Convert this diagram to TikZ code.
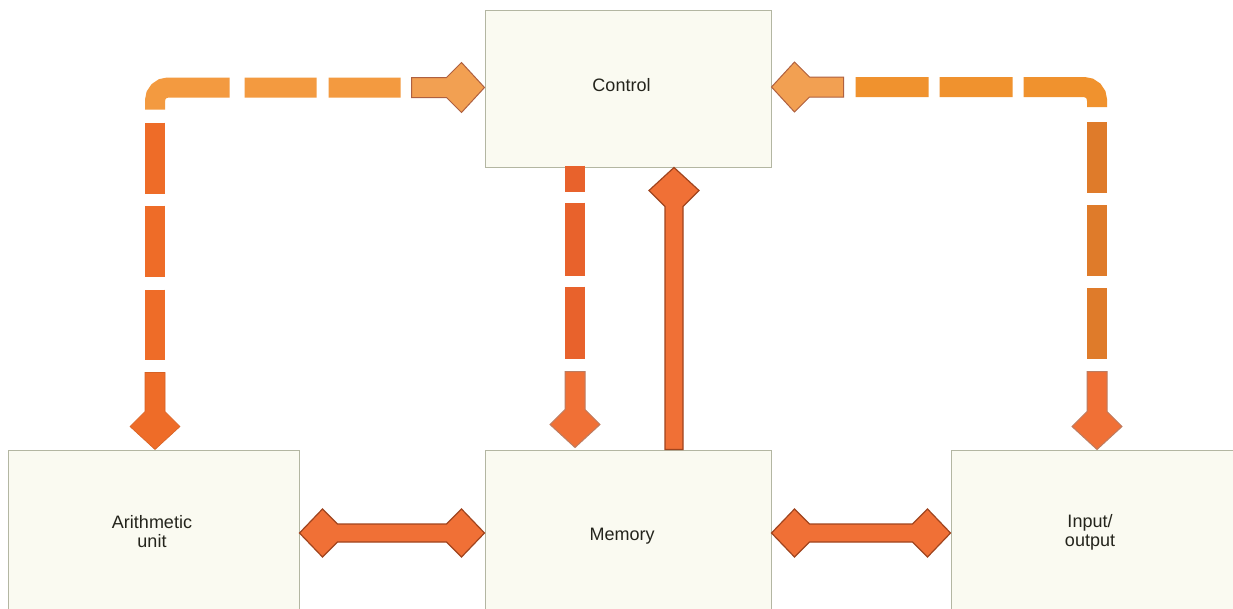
\documentclass[tikz,border=0pt]{standalone}
\usepackage{fontspec}
\setmainfont{Liberation Sans}
\usetikzlibrary{calc}
\definecolor{boxfill}{HTML}{FAFAF1}
\definecolor{boxline}{HTML}{B3B6A2}
\definecolor{txt}{HTML}{24241C}
\definecolor{dashH}{HTML}{F39A40}
\definecolor{dashL}{HTML}{EE6C28}
\definecolor{dashM}{HTML}{E8622C}
\definecolor{dashR}{HTML}{DF7B2A}
\definecolor{dashRH}{HTML}{F0922E}
\definecolor{solid}{HTML}{F07036}
\definecolor{rim}{HTML}{A0441E}
\definecolor{headH}{HTML}{F2A052}
% single-headed fat arrow: #1 style, #2 tail, #3 tip, #4 shaft half width, #5 head half width, #6 head depth
\newcommand\fatarrow[6]{%
  \pgfmathsetmacro\fsh{#6+#5-#4}%
  \draw[#1] ($(#2)!#4pt!90:(#3)$) -- ($(#3)!\fsh pt!(#2)!#4pt!-90:(#2)$) -- ($(#3)!#6pt!(#2)!#5pt!-90:(#2)$) -- (#3) -- ($(#3)!#6pt!(#2)!#5pt!90:(#2)$) -- ($(#3)!\fsh pt!(#2)!#4pt!90:(#2)$) -- ($(#2)!#4pt!-90:(#3)$) -- cycle;}
% double-headed fat arrow between #2 and #3
\newcommand\fatdarrow[6]{%
  \pgfmathsetmacro\fsh{#6+#5-#4}%
  \draw[#1] ($(#2)!\fsh pt!(#3)!#4pt!90:(#3)$) -- ($(#3)!\fsh pt!(#2)!#4pt!-90:(#2)$) -- ($(#3)!#6pt!(#2)!#5pt!-90:(#2)$) -- (#3) -- ($(#3)!#6pt!(#2)!#5pt!90:(#2)$) -- ($(#3)!\fsh pt!(#2)!#4pt!90:(#2)$) -- ($(#2)!\fsh pt!(#3)!#4pt!-90:(#3)$) -- ($(#2)!#6pt!(#3)!#5pt!-90:(#3)$) -- (#2) -- ($(#2)!#6pt!(#3)!#5pt!90:(#3)$) -- cycle;}
\tikzset{
  box/.style={draw=boxline, fill=boxfill, line width=1pt, inner sep=0pt},
  lbl/.style={font=\fontsize{18pt}{19pt}\selectfont, text=txt, inner sep=0pt, align=center},
  dashline/.style={line width=20pt, line cap=butt, rounded corners=13pt},
  sarrow/.style={fill=solid, draw=rim, line width=1.2pt, line join=miter},
  harrow/.style={fill=headH, draw=rim!85, line width=1pt, line join=miter},
  varrow/.style={fill=#1, draw=rim!70, line width=1pt, line join=miter},
}
\begin{document}
\begin{tikzpicture}[x=1pt, y=-1pt]
\fill[white] (0,0) rectangle (1233,608);
\useasboundingbox (0,0) rectangle (1233,608);
\clip (0,0) rectangle (1233,608);
% boxes
\node[box, minimum width=286pt, minimum height=157pt] (ctrl) at (628,88.5) {};
\node[box, minimum width=291pt, minimum height=170pt] (arith) at (153.5,535) {};
\node[box, minimum width=286pt, minimum height=170pt] (mem) at (628,535) {};
\node[box, minimum width=289pt, minimum height=170pt] (io) at (1095.5,535) {};
% coordinates for the dashed connectors
\coordinate (lt) at ($(ctrl.west)+(-73,-1)$);
\coordinate (ltip) at ($(ctrl.west)+(0,-1)$);
\coordinate (lk) at ($(arith.north |- lt)+(1.5,0)$);
\coordinate (lm) at ($(lk)+(0,22)$);
\coordinate (lb) at ($(arith.north)+(1.5,-77)$);
\coordinate (lbtip) at ($(arith.north)+(1.5,0)$);
\coordinate (rt) at ($(ctrl.east)+(72,-1.5)$);
\coordinate (rtip) at ($(ctrl.east)+(0,-1.5)$);
\coordinate (rk) at ($(io.north |- rt)+(1.5,0)$);
\coordinate (rm) at ($(rk)+(0,20)$);
\coordinate (rb) at ($(io.north)+(1.5,-78)$);
\coordinate (rbtip) at ($(io.north)+(1.5,0)$);
\coordinate (mt) at ($(ctrl.south)+(-53,-2)$);
\coordinate (mb) at ($(mem.north)+(-53,-78)$);
\coordinate (mbtip) at ($(mem.north)+(-53,-2)$);
\coordinate (ut) at ($(mem.north)+(46,0)$);
\coordinate (utip) at ($(ctrl.south)+(46,0)$);
\coordinate (d1a) at ($(arith.east)+(0,-2)$);
\coordinate (d1b) at ($(mem.west)+(0,-2)$);
\coordinate (d2a) at ($(mem.east)+(0,-2)$);
\coordinate (d2b) at ($(io.west)+(0,-2)$);
% dashed connector: control <-> arithmetic unit
\draw[dashline, draw=dashH, dash pattern=on 0pt off 11pt on 72pt off 12pt on 72pt off 15pt on 200pt] (lt) -- (lk) -- (lm);
\draw[dashline, draw=dashL, dash pattern=on 0pt off 13pt on 71pt off 12pt on 71pt off 13pt on 70pt off 100pt] (lm) -- (lb);
\fatarrow{harrow}{lt}{ltip}{10}{25}{23}
\fatarrow{fill=dashL, draw=dashL!90!black, line width=0.6pt}{lb}{lbtip}{10}{25}{23}
% dashed connector: control <-> input/output
\draw[dashline, draw=dashRH, dash pattern=on 0pt off 12pt on 73pt off 11pt on 73pt off 11pt on 200pt] (rt) -- (rk) -- (rm);
\draw[dashline, draw=dashR, dash pattern=on 0pt off 15pt on 71pt off 12pt on 71pt off 12pt on 71pt off 100pt] (rm) -- (rb);
\fatarrow{harrow}{rt}{rtip}{10}{25}{23}
\fatarrow{varrow=solid}{rb}{rbtip}{10}{25}{23}
% dashed connector: control -> memory
\draw[dashline, draw=dashM, dash pattern=on 26pt off 11pt on 73pt off 11pt on 72pt off 50pt] (mt) -- (mb);
\fatarrow{varrow=solid}{mb}{mbtip}{10}{25}{23}
% solid arrows
\fatarrow{sarrow}{ut}{utip}{9}{25}{23}
\fatdarrow{sarrow}{d1a}{d1b}{9}{24}{23}
\fatdarrow{sarrow}{d2a}{d2b}{9}{24}{23}
% labels
\node[lbl, anchor=base] (lctrl) at (621.5,91) {Control};
\node[lbl] (larith) at (152,531.5) {Arithmetic\\unit};
\node[lbl, anchor=base] (lmem) at (622,540) {Memory};
\node[lbl] (lio) at (1090,532.5) {Input/\\output};
\end{tikzpicture}
\end{document}
